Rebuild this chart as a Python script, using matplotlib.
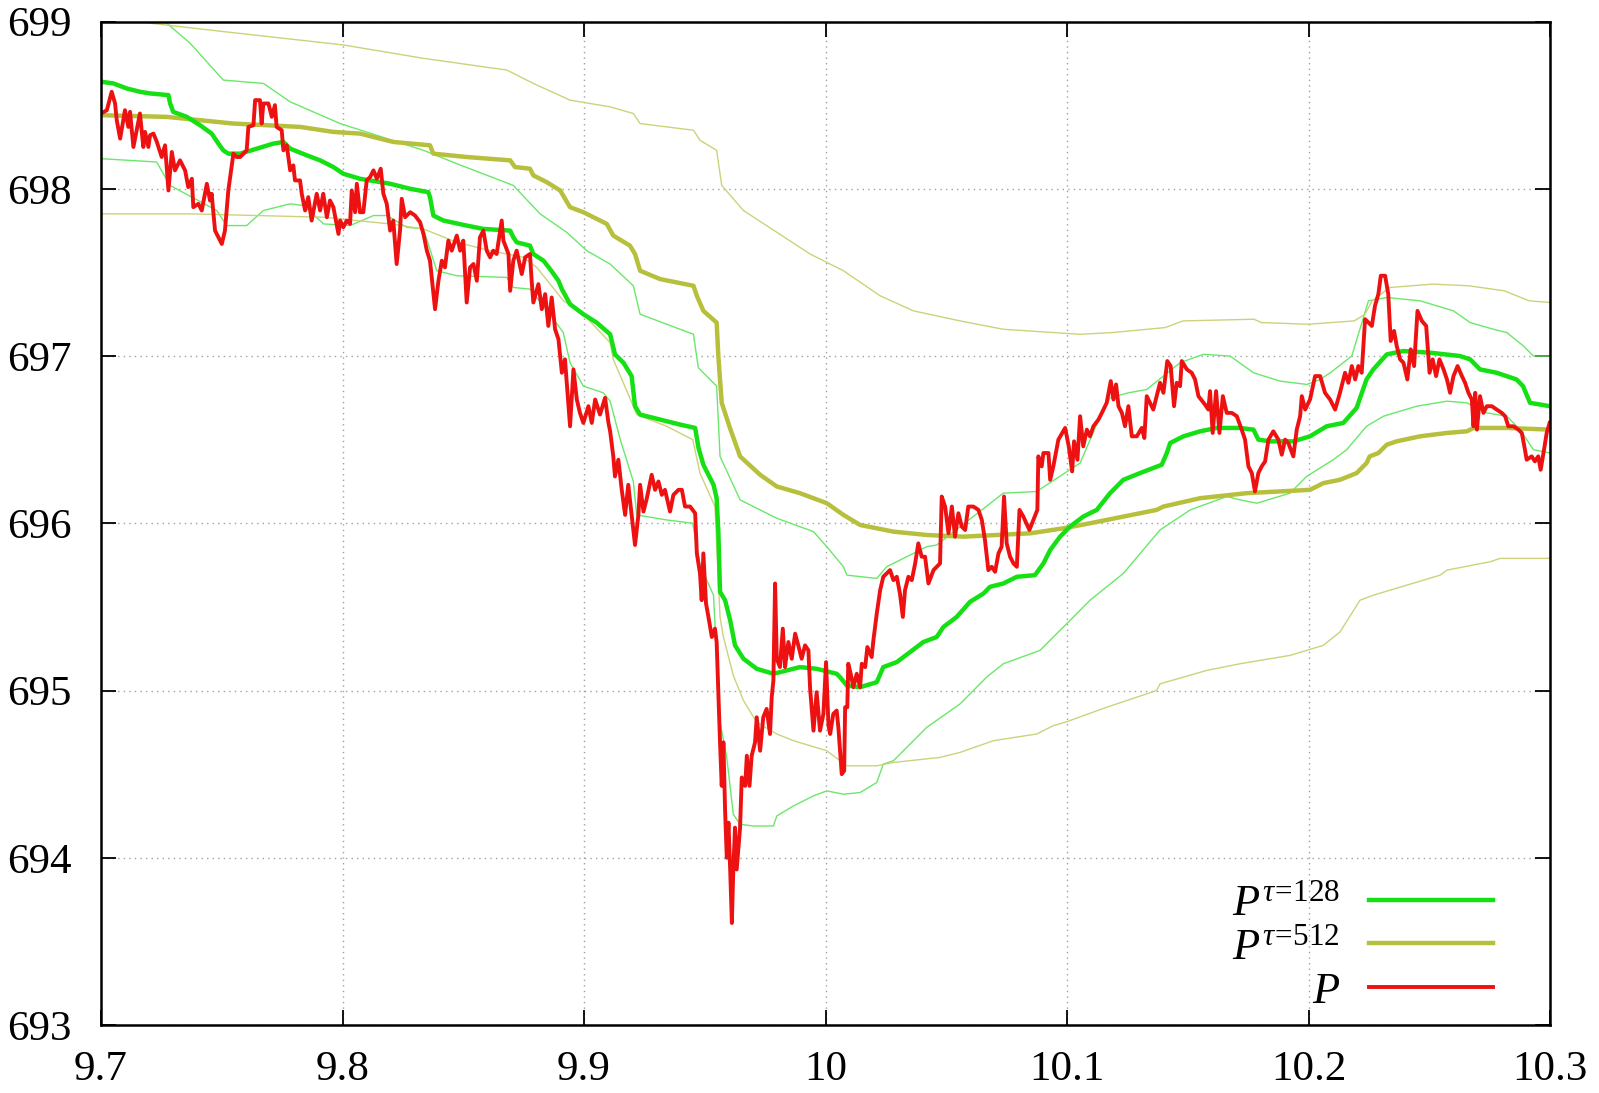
import matplotlib
matplotlib.use('Agg')
import matplotlib.pyplot as plt
from matplotlib.ticker import FuncFormatter

plt.rcParams['font.family'] = ['Liberation Serif', 'DejaVu Serif']
plt.rcParams['mathtext.fontset'] = 'custom'
plt.rcParams['mathtext.rm'] = 'Liberation Serif'
plt.rcParams['mathtext.it'] = 'Liberation Serif:italic'

# price P
p_x = [9.7000, 9.7024, 9.7044, 9.7058, 9.7065, 9.7079, 9.7099, 9.7113, 9.7120, 9.7134, 9.7161, 9.7175, 9.7182, 9.7196,
       9.7203, 9.7217, 9.7231, 9.7251, 9.7265, 9.7279, 9.7293, 9.7306, 9.7327, 9.7348, 9.7361, 9.7376, 9.7382, 9.7403,
       9.7417, 9.7438, 9.7451, 9.7458, 9.7472, 9.7486, 9.7500, 9.7513, 9.7527, 9.7548, 9.7562, 9.7576, 9.7603, 9.7610,
       9.7631, 9.7638, 9.7658, 9.7665, 9.7672, 9.7693, 9.7707, 9.7720, 9.7727, 9.7748, 9.7755, 9.7769, 9.7783, 9.7796,
       9.7803, 9.7824, 9.7831, 9.7845, 9.7858, 9.7872, 9.7893, 9.7907, 9.7920, 9.7935, 9.7948, 9.7962, 9.7983, 9.7990,
       9.8003, 9.8017, 9.8031,
       9.8038, 9.8052, 9.8059, 9.8072, 9.8086, 9.8100, 9.8114, 9.8128, 9.8142, 9.8158, 9.8169, 9.8183, 9.8197, 9.8210,
       9.8224, 9.8238, 9.8245, 9.8259, 9.8280, 9.8300, 9.8321, 9.8335, 9.8349, 9.8362, 9.8383, 9.8397, 9.8411, 9.8424,
       9.8438, 9.8452, 9.8473, 9.8487, 9.8500, 9.8514, 9.8528, 9.8542, 9.8556, 9.8569, 9.8583, 9.8597, 9.8611, 9.8624,
       9.8638, 9.8659, 9.8666, 9.8687, 9.8694, 9.8707, 9.8721, 9.8742, 9.8756, 9.8776, 9.8783, 9.8790, 9.8811, 9.8825,
       9.8839, 9.8852, 9.8866, 9.8880, 9.8894, 9.8908, 9.8921, 9.8942, 9.8956, 9.8970, 9.8983, 9.8997, 9.9018, 9.9032,
       9.9046,
       9.9066, 9.9087, 9.9101, 9.9108, 9.9121, 9.9128, 9.9142, 9.9156, 9.9170, 9.9183, 9.9197, 9.9211, 9.9225, 9.9232,
       9.9246, 9.9260, 9.9280, 9.9294, 9.9308, 9.9322, 9.9335, 9.9356, 9.9370, 9.9391, 9.9405, 9.9418, 9.9439, 9.9460,
       9.9467, 9.9480, 9.9487, 9.9494, 9.9505, 9.9515, 9.9529, 9.9542, 9.9549, 9.9563, 9.9570, 9.9577, 9.9584, 9.9591,
       9.9598, 9.9605, 9.9612, 9.9618, 9.9625, 9.9632, 9.9646, 9.9653, 9.9667, 9.9674, 9.9685, 9.9694, 9.9708, 9.9715,
       9.9729, 9.9742, 9.9756, 9.9770, 9.9777, 9.9784, 9.9791, 9.9798, 9.9811, 9.9823, 9.9832, 9.9846, 9.9860, 9.9874,
       9.9887, 9.9901, 9.9915, 9.9929, 9.9936, 9.9950, 9.9963, 9.9977, 9.9991, 10.0002, 10.0012,
       10.0019, 10.0032, 10.0046, 10.0053, 10.0067, 10.0077, 10.0081, 10.0090, 10.0094, 10.0104, 10.0115, 10.0129,
       10.0143, 10.0150, 10.0164, 10.0173, 10.0191, 10.0198, 10.0212, 10.0226, 10.0239, 10.0253, 10.0267, 10.0281,
       10.0295, 10.0308, 10.0320, 10.0329, 10.0343, 10.0357, 10.0371, 10.0384, 10.0398, 10.0412, 10.0426, 10.0447,
       10.0474, 10.0481, 10.0495, 10.0509, 10.0523, 10.0536, 10.0550, 10.0564, 10.0578, 10.0591, 10.0612, 10.0633,
       10.0647, 10.0660, 10.0674, 10.0688, 10.0702, 10.0716, 10.0729, 10.0739, 10.0750, 10.0764, 10.0778, 10.0792,
       10.0803, 10.0819, 10.0844, 10.0877, 10.0881, 10.0895, 10.0902, 10.0923, 10.0930, 10.0943, 10.0964,
       10.0992, 10.1007, 10.1021, 10.1029, 10.1043,
       10.1054, 10.1067, 10.1082, 10.1095, 10.1109, 10.1130, 10.1144, 10.1164, 10.1181, 10.1192, 10.1203, 10.1213,
       10.1227, 10.1240, 10.1254, 10.1268, 10.1289, 10.1309, 10.1320, 10.1330, 10.1357, 10.1385, 10.1399, 10.1415,
       10.1429, 10.1443, 10.1454, 10.1468, 10.1475, 10.1496, 10.1516, 10.1530, 10.1544, 10.1571, 10.1585, 10.1592,
       10.1603, 10.1617, 10.1631, 10.1645, 10.1661, 10.1682, 10.1703, 10.1723, 10.1737, 10.1751, 10.1765, 10.1778,
       10.1792, 10.1806, 10.1820, 10.1834, 10.1854, 10.1875, 10.1889, 10.1903, 10.1916, 10.1937, 10.1951, 10.1965,
       10.1972, 10.1986, 10.2006, 10.2027,
       10.2048, 10.2068, 10.2089, 10.2110, 10.2130, 10.2151, 10.2165, 10.2179, 10.2193, 10.2206, 10.2220, 10.2234,
       10.2248, 10.2262, 10.2275, 10.2289, 10.2299, 10.2317, 10.2330, 10.2340, 10.2354, 10.2365, 10.2379, 10.2393,
       10.2409, 10.2423, 10.2437, 10.2451, 10.2469, 10.2487, 10.2501, 10.2514, 10.2528, 10.2542, 10.2559, 10.2573,
       10.2586, 10.2600, 10.2617, 10.2635, 10.2648, 10.2662, 10.2676, 10.2683, 10.2690, 10.2697, 10.2710, 10.2724,
       10.2738, 10.2759, 10.2779, 10.2800, 10.2814, 10.2827, 10.2848, 10.2869, 10.2883, 10.2896, 10.2903, 10.2924,
       10.2937, 10.2951, 10.2961, 10.2975, 10.2986, 10.2998]
p_y = [698.45, 698.47, 698.58, 698.51, 698.41, 698.30, 698.47, 698.37, 698.46, 698.25, 698.45, 698.25, 698.34, 698.25,
       698.32, 698.33, 698.28, 698.19, 698.26, 697.99, 698.22, 698.11, 698.17, 698.11, 698.01, 698.06, 697.89, 697.91,
       697.87, 698.03, 697.93, 697.97, 697.75, 697.71, 697.67, 697.75, 697.99, 698.21, 698.19, 698.19, 698.23, 698.37,
       698.38, 698.53, 698.53, 698.39, 698.51, 698.51, 698.43, 698.50, 698.37, 698.35, 698.23, 698.26, 698.11, 698.14,
       698.05, 698.05, 697.97, 697.87, 697.95, 697.81, 697.97, 697.87, 697.97, 697.83, 697.93, 697.89, 697.73, 697.81,
       697.77, 697.81, 697.79,
       697.99, 697.86, 698.03, 697.86, 697.86, 698.05, 698.07, 698.11, 698.06, 698.12, 697.97, 697.91, 697.75, 697.81,
       697.55, 697.75, 697.94, 697.83, 697.86, 697.84, 697.80, 697.73, 697.63, 697.57, 697.28, 697.45, 697.57, 697.53,
       697.69, 697.63, 697.72, 697.63, 697.69, 697.32, 697.53, 697.55, 697.45, 697.71, 697.75, 697.63, 697.59, 697.63,
       697.61, 697.81, 697.69, 697.61, 697.39, 697.57, 697.63, 697.49, 697.59, 697.61, 697.45, 697.32, 697.43, 697.28,
       697.37, 697.18, 697.35, 697.16, 697.10, 696.90, 696.98, 696.58, 696.92, 696.74, 696.66, 696.60, 696.70, 696.60,
       696.74,
       696.65, 696.75, 696.60, 696.55, 696.40, 696.28, 696.38, 696.20, 696.05, 696.23, 696.05, 695.87, 696.05, 696.23,
       696.07, 696.15, 696.29, 696.20, 696.25, 696.17, 696.20, 696.07, 696.17, 696.20, 696.20, 696.10, 696.10, 696.06,
       695.82, 695.70, 695.54, 695.82, 695.52, 695.44, 695.32, 695.37, 695.29, 694.69, 694.43, 694.69, 694.28, 694.00,
       694.21, 693.93, 693.61, 693.93, 694.18, 693.93, 694.18, 694.48, 694.43, 694.61, 694.43, 694.61, 694.69, 694.84,
       694.64, 694.84, 694.89, 694.74, 694.96, 695.06, 695.64, 695.19, 695.14, 695.37, 695.14, 695.29, 695.19, 695.34,
       695.27, 695.19, 695.27, 695.24, 695.01, 694.76, 694.99, 694.76, 694.86, 695.17, 694.79,
       694.74, 694.86, 694.88, 694.78, 694.50, 694.52, 694.90, 694.90, 695.16, 695.10, 695.02, 695.10,
       695.02, 695.16, 695.14, 695.26, 695.20, 695.30, 695.46, 695.60, 695.68, 695.70, 695.72, 695.66,
       695.68, 695.58, 695.44, 695.60, 695.68, 695.66, 695.76, 695.88, 695.80, 695.80, 695.64, 695.72,
       695.76, 696.16, 696.10, 695.94, 696.10, 695.92, 696.06, 695.98, 695.96, 696.10, 696.10, 696.08,
       696.02, 695.90, 695.72, 695.74, 695.71, 695.82, 695.86, 696.16, 695.88, 695.80, 695.76, 695.74,
       696.08, 696.04, 695.96, 696.08, 696.40, 696.34, 696.42, 696.42, 696.26, 696.34, 696.50,
       696.57, 696.46, 696.31, 696.49, 696.38,
       696.64, 696.46, 696.56, 696.52, 696.58, 696.62, 696.66, 696.72, 696.85, 696.74, 696.83, 696.70,
       696.66, 696.58, 696.70, 696.52, 696.52, 696.57, 696.51, 696.76, 696.68, 696.84, 696.78, 696.97,
       696.94, 696.70, 696.84, 696.82, 696.97, 696.92, 696.90, 696.86, 696.76, 696.71, 696.68, 696.79,
       696.54, 696.79, 696.54, 696.76, 696.66, 696.66, 696.64, 696.56, 696.50, 696.34, 696.30, 696.19,
       696.30, 696.34, 696.37, 696.50, 696.55, 696.50, 696.41, 696.50, 696.48, 696.40, 696.56, 696.64,
       696.76, 696.68, 696.74, 696.88,
       696.88, 696.78, 696.74, 696.68, 696.78, 696.90, 696.84, 696.94, 696.86, 696.94, 696.90, 697.22,
       697.20, 697.18, 697.30, 697.37, 697.48, 697.48, 697.37, 697.09, 697.15, 697.06, 696.98, 696.96,
       696.86, 697.04, 696.94, 697.27, 697.21, 697.18, 696.90, 696.98, 696.88, 696.98, 696.92, 696.86,
       696.78, 696.88, 696.94, 696.88, 696.84, 696.78, 696.74, 696.58, 696.78, 696.56, 696.76, 696.66,
       696.70, 696.70, 696.68, 696.66, 696.64, 696.58, 696.58, 696.56, 696.54, 696.44, 696.38, 696.40,
       696.37, 696.40, 696.32, 696.44, 696.54, 696.60]

# moving average tau=128
g128_x = [9.7000, 9.7051, 9.7106, 9.7161, 9.7203, 9.7279, 9.7286, 9.7299, 9.7355, 9.7410, 9.7458, 9.7486, 9.7506,
          9.7527, 9.7576, 9.7645, 9.7713, 9.7755, 9.7783, 9.7852, 9.7907, 9.7962, 9.8003, 9.8072, 9.8114, 9.8197,
          9.8280, 9.8355, 9.8362, 9.8376, 9.8418, 9.8514, 9.8583, 9.8694, 9.8707, 9.8721, 9.8776, 9.8790, 9.8832,
          9.8859, 9.8894, 9.8908, 9.8942, 9.8997, 9.9052, 9.9108, 9.9128, 9.9163, 9.9197, 9.9211, 9.9232, 9.9315,
          9.9398, 9.9460, 9.9474, 9.9494, 9.9536, 9.9549, 9.9556, 9.9563, 9.9584, 9.9605, 9.9625, 9.9660, 9.9715,
          9.9784, 9.9894, 9.9963, 10.0046, 10.0060, 10.0088, 10.0143, 10.0212, 10.0239, 10.0295, 10.0350, 10.0405,
          10.0460, 10.0488, 10.0543, 10.0598, 10.0654, 10.0681, 10.0736, 10.0792, 10.0867, 10.0902, 10.0930,
          10.0971, 10.1012, 10.1067, 10.1123, 10.1178, 10.1233, 10.1302, 10.1392, 10.1413, 10.1427, 10.1482,
          10.1551, 10.1620, 10.1716, 10.1772, 10.1792, 10.1841, 10.1937, 10.2006, 10.2075, 10.2144, 10.2199,
          10.2240, 10.2268, 10.2324, 10.2393, 10.2503, 10.2627, 10.2669, 10.2710, 10.2779, 10.2861, 10.2888,
          10.2917, 10.3000]
g128_y = [698.64, 698.63, 698.60, 698.58, 698.57, 698.56, 698.51, 698.46, 698.43, 698.38, 698.33, 698.27, 698.23,
          698.21, 698.21, 698.24, 698.27, 698.28, 698.24, 698.20, 698.17, 698.13, 698.09, 698.06, 698.05, 698.03,
          698.00, 697.98, 697.95, 697.84, 697.81, 697.78, 697.76, 697.75, 697.71, 697.68, 697.66, 697.61, 697.57,
          697.52, 697.45, 697.40, 697.31, 697.25, 697.20, 697.13, 697.01, 696.96, 696.88, 696.70, 696.65, 696.62,
          696.59, 696.57, 696.45, 696.35, 696.23, 696.15, 695.95, 695.59, 695.54, 695.42, 695.27, 695.19, 695.13,
          695.10, 695.14, 695.13, 695.10, 695.08, 695.03, 695.02, 695.05, 695.14, 695.17, 695.23, 695.29,
          695.32, 695.38, 695.44, 695.53, 695.58, 695.62, 695.64, 695.68, 695.69, 695.76, 695.84,
          695.92, 695.98, 696.04, 696.08, 696.18, 696.26, 696.30, 696.35, 696.42, 696.48, 696.52,
          696.55, 696.57, 696.57, 696.56, 696.50, 696.49, 696.49, 696.52, 696.58, 696.60, 696.69,
          696.86, 696.92, 697.01, 697.03, 697.02, 697.00, 696.98, 696.92, 696.90, 696.86, 696.82,
          696.72, 696.70]
g128_hi_x = [9.7000, 9.7272, 9.7369, 9.7506, 9.7672, 9.7783, 9.7990, 9.8335, 9.8473, 9.8707, 9.8818, 9.8928, 9.9011,
             9.9108, 9.9204, 9.9232, 9.9453, 9.9473, 9.9549, 9.9563, 9.9646, 9.9798, 9.9950, 10.0005, 10.0074,
             10.0088, 10.0212, 10.0253, 10.0419, 10.0460, 10.0736, 10.0874, 10.1054, 10.1137, 10.1178, 10.1254,
             10.1330, 10.1468, 10.1564, 10.1675, 10.1772, 10.1882, 10.1993, 10.2048, 10.2090, 10.2179, 10.2248,
             10.2324, 10.2462, 10.2600, 10.2669, 10.2766, 10.2821, 10.2890, 10.2931, 10.3000]
g128_hi_y = [699.40, 698.99, 698.87, 698.65, 698.63, 698.52, 698.39, 698.23, 698.15, 698.02, 697.85, 697.74, 697.63,
             697.55, 697.42, 697.25, 697.13, 696.93, 696.82, 696.40, 696.14, 696.03, 695.95, 695.86, 695.74,
             695.69, 695.67, 695.74, 695.86, 695.87, 696.18, 696.19, 696.36, 696.64, 696.75, 696.78,
             696.80, 696.96, 697.01, 697.00, 696.90, 696.85, 696.83, 696.86, 696.90, 697.00, 697.33,
             697.35, 697.33, 697.27, 697.20, 697.16, 697.14, 697.06, 697.00, 697.00]
g128_lo_x = [9.7000, 9.7230, 9.7286, 9.7479, 9.7520, 9.7603, 9.7672, 9.7783, 9.7838, 9.7921, 9.8031, 9.8128, 9.8183,
             9.8266, 9.8335, 9.8390, 9.8473, 9.8680, 9.8707, 9.8776, 9.8859, 9.8914, 9.8942, 9.8997, 9.9080, 9.9108,
             9.9150, 9.9204, 9.9218, 9.9342, 9.9450, 9.9480, 9.9536, 9.9563, 9.9590, 9.9618, 9.9646, 9.9701, 9.9784,
             9.9798, 9.9867, 9.9950, 10.0005, 10.0074, 10.0143, 10.0212, 10.0239, 10.0281, 10.0419, 10.0557,
             10.0667, 10.0736, 10.0888, 10.0971, 10.0999, 10.1054, 10.1095, 10.1233, 10.1385, 10.1510, 10.1661,
             10.1716, 10.1786, 10.1923, 10.1992, 10.2102, 10.2158, 10.2240, 10.2310, 10.2448, 10.2573, 10.2656,
             10.2738, 10.2821, 10.2876, 10.2931, 10.3000]
g128_lo_y = [698.18, 698.16, 698.02, 697.87, 697.78, 697.78, 697.87, 697.91, 697.90, 697.79, 697.78, 697.84, 697.84,
             697.77, 697.76, 697.51, 697.48, 697.47, 697.41, 697.40, 697.25, 697.14, 696.96, 696.82, 696.78, 696.73,
             696.50, 696.25, 696.05, 696.02, 696.00, 695.75, 695.57, 694.81, 694.61, 694.26, 694.20, 694.19, 694.19,
             694.25, 694.31, 694.37, 694.40, 694.38, 694.39, 694.45, 694.56, 694.58, 694.78, 694.92,
             695.08, 695.16, 695.24, 695.36, 695.40, 695.48, 695.54, 695.70, 695.96, 696.08, 696.16,
             696.14, 696.12, 696.18, 696.28, 696.38, 696.44, 696.58, 696.64, 696.70, 696.73, 696.72,
             696.66, 696.64, 696.56, 696.44, 696.42]

# moving average tau=512
o512_x = [9.7000, 9.7272, 9.7410, 9.7548, 9.7686, 9.7824, 9.7962, 9.8072, 9.8210, 9.8362, 9.8376, 9.8514, 9.8694,
          9.8714, 9.8776, 9.8790, 9.8845, 9.8901, 9.8942, 9.8997, 9.9094, 9.9121, 9.9190, 9.9211, 9.9232, 9.9315,
          9.9453, 9.9467, 9.9494, 9.9549, 9.9556, 9.9570, 9.9604, 9.9646, 9.9729, 9.9798, 9.9894, 10.0005,
          10.0074, 10.0143, 10.0281, 10.0419, 10.0571, 10.0709, 10.0847, 10.0985, 10.1095, 10.1371, 10.1399,
          10.1551, 10.1744, 10.2006, 10.2061, 10.2130, 10.2199, 10.2240, 10.2253, 10.2289, 10.2324, 10.2365,
          10.2462, 10.2573, 10.2656, 10.2683, 10.2821, 10.3000]
o512_y = [698.44, 698.43, 698.41, 698.39, 698.38, 698.37, 698.34, 698.33, 698.28, 698.26, 698.21, 698.19, 698.17,
          698.13, 698.12, 698.08, 698.04, 697.99, 697.89, 697.86, 697.79, 697.72, 697.66, 697.61, 697.51, 697.46,
          697.42, 697.36, 697.27, 697.20, 697.00, 696.72, 696.57, 696.40, 696.29, 696.22, 696.18, 696.12,
          696.05, 695.99, 695.95, 695.93, 695.92, 695.93, 695.94, 695.97, 696.00, 696.08, 696.10,
          696.15, 696.18, 696.20, 696.24, 696.26, 696.30, 696.36, 696.40, 696.42, 696.47, 696.49,
          696.52, 696.54, 696.55, 696.57, 696.57, 696.56]
o512_hi_x = [9.7000, 9.7203, 9.7506, 9.8003, 9.8335, 9.8680, 9.8790, 9.8942, 9.9108, 9.9204, 9.9232, 9.9453, 9.9480,
             9.9549, 9.9570, 9.9660, 9.9798, 9.9936, 10.0074, 10.0226, 10.0364, 10.0557, 10.0736, 10.1054,
             10.1184, 10.1406, 10.1480, 10.1774, 10.1805, 10.1998, 10.2189, 10.2234, 10.2263, 10.2337, 10.2515,
             10.2663, 10.2810, 10.2914, 10.3000]
o512_hi_y = [699.05, 698.99, 698.94, 698.86, 698.78, 698.71, 698.63, 698.53, 698.49, 698.45, 698.39, 698.35, 698.29,
             698.23, 698.02, 697.87, 697.74, 697.61, 697.51, 697.36, 697.27, 697.21, 697.16, 697.13,
             697.14, 697.17, 697.21, 697.22, 697.20, 697.19, 697.21, 697.25, 697.33, 697.41, 697.43,
             697.42, 697.39, 697.33, 697.32]
o512_lo_x = [9.7000, 9.7369, 9.7645, 9.7921, 9.8197, 9.8335, 9.8473, 9.8611, 9.8749, 9.8804, 9.8915, 9.8997, 9.9108,
             9.9121, 9.9204, 9.9218, 9.9342, 9.9450, 9.9480, 9.9542, 9.9563, 9.9577, 9.9618, 9.9660, 9.9715, 9.9798,
             9.9867, 10.0005, 10.0088, 10.0212, 10.0281, 10.0474, 10.0557, 10.0695, 10.0874, 10.0943, 10.0992,
             10.1164, 10.1371, 10.1385, 10.1578, 10.1716, 10.1923, 10.2061, 10.2130, 10.2213, 10.2268, 10.2407,
             10.2545, 10.2573, 10.2752, 10.2793, 10.3000]
o512_lo_y = [697.85, 697.85, 697.84, 697.83, 697.79, 697.76, 697.68, 697.63, 697.59, 697.53, 697.33, 697.25, 697.08,
             696.98, 696.70, 696.65, 696.58, 696.50, 696.30, 696.10, 695.44, 695.32, 695.09, 694.94, 694.81, 694.74,
             694.70, 694.64, 694.55, 694.55, 694.57, 694.60, 694.63, 694.70, 694.74, 694.79, 694.81,
             694.90, 695.00, 695.04, 695.12, 695.16, 695.21, 695.27, 695.35, 695.54, 695.57, 695.63,
             695.69, 695.72, 695.77, 695.79, 695.79]

x_ticks = [9.7, 9.8, 9.9, 10.0, 10.1, 10.2, 10.3]
y_ticks = [693, 694, 695, 696, 697, 698, 699]

c_green = '#14e014'
c_olive = '#b6c03c'
c_red = '#ee1111'

fig = plt.figure(figsize=(15.99, 10.93), dpi=100)
ax = fig.add_axes([0.0632, 0.0622, 0.9062, 0.9181])

# thin bands first
ax.plot(g128_hi_x, g128_hi_y, color='#6ae86a', lw=1.0)
ax.plot(g128_lo_x, g128_lo_y, color='#6ae86a', lw=1.0)
ax.plot(o512_hi_x, o512_hi_y, color='#cdd27a', lw=1.0)
ax.plot(o512_lo_x, o512_lo_y, color='#cdd27a', lw=1.0)

l2, = ax.plot(o512_x, o512_y, color=c_olive, lw=3.2, label=r'$P^{\tau\!=\!512}$')
l1, = ax.plot(g128_x, g128_y, color=c_green, lw=3.2, label=r'$P^{\tau\!=\!128}$')
l3, = ax.plot(p_x, p_y, color=c_red, lw=2.8, label=r'$P$')

ax.set_xlim(9.7, 10.3)
ax.set_ylim(693, 699)
ax.set_xticks(x_ticks)
ax.set_yticks(y_ticks)
ax.xaxis.set_major_formatter(FuncFormatter(lambda v, pos: '%g' % v))
ax.tick_params(direction='in', length=11, width=1.3, top=True, right=True, labelsize=31)
ax.tick_params(axis='y', pad=21)
ax.tick_params(axis='x', pad=18)
ax.grid(True, color='#a0a0a0', lw=1.0, linestyle=(0, (1, 3)))
for s in ax.spines.values():
    s.set_linewidth(1.8)

leg = ax.legend([l1, l2, l3], [l1.get_label(), l2.get_label(), l3.get_label()],
                loc='lower right', bbox_to_anchor=(0.970, 0.0), markerfirst=False,
                frameon=False, fontsize=32, handlelength=2.8, handletextpad=0.65,
                labelspacing=0.08, borderpad=0.3, borderaxespad=0.0)

fig.savefig('out.png', dpi=100)
